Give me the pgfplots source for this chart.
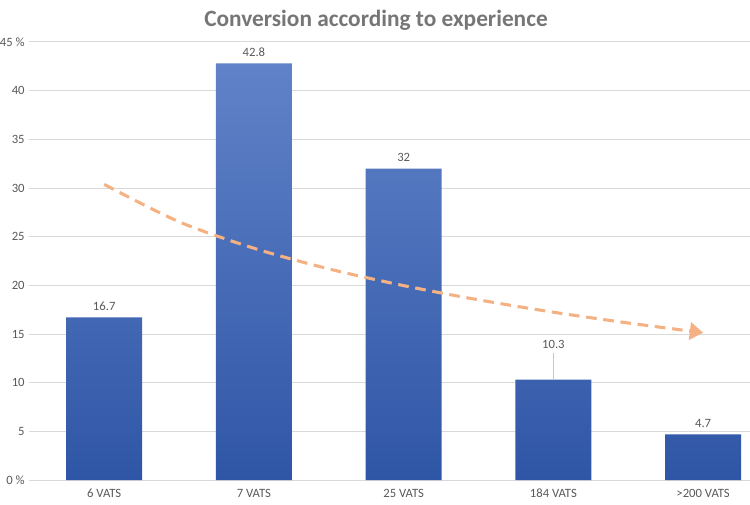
\documentclass[border=0pt]{standalone}
\usepackage{fontspec}
\setmainfont{Carlito}
\usepackage{pgfplots}
\pgfplotsset{compat=1.18}
\usetikzlibrary{arrows.meta}
\definecolor{txtgray}{RGB}{89,89,89}
\definecolor{titlegray}{RGB}{118,118,118}
\definecolor{gridgray}{RGB}{217,217,217}
\definecolor{bartop}{RGB}{96,130,200}
\definecolor{barbot}{RGB}{47,86,166}
\definecolor{trendorange}{RGB}{244,177,131}
\begin{document}
\begin{tikzpicture}
\path[use as bounding box] (0,0) rectangle (562.5pt,378pt);
\node[font=\bfseries\fontsize{17.5}{20}\selectfont, text=titlegray] at (282pt,363pt) {Conversion according to experience};
\begin{axis}[
  at={(22pt,18pt)}, anchor=south west,
  scale only axis,
  width=540.5pt, height=328.5pt,
  xmin=-0.5, xmax=4.313,
  ymin=0, ymax=45,
  xtick={0,1,2,3,4},
  xticklabels={6 VATS, 7 VATS, 25 VATS, 184 VATS, >200 VATS},
  ytick={0,5,...,45},
  yticklabels={0 \%,5,10,15,20,25,30,35,40,45 \%},
  tick label style={font=\fontsize{9.5}{11}\selectfont, text=txtgray},
  /pgf/number format/assume math mode=true,
  major tick length=0pt,
  axis x line*=bottom, axis y line*=left,
  x axis line style={draw=gridgray, line width=0.75pt, -},
  y axis line style={draw=none},
  ymajorgrids=true,
  grid style={draw=gridgray, line width=0.75pt},
  xticklabel style={yshift=-2pt, text height=1.6ex, text depth=0.3ex},
  clip=false,
]
  \addplot[ybar, bar width=57pt, draw=none, top color=bartop, bottom color=barbot,
    nodes near coords,
    nodes near coords style={font=\fontsize{9.5}{11}\selectfont, text=txtgray, /pgf/number format/fixed, inner sep=2pt, yshift=3pt},
    coordinate style/.condition={x==3}{yshift=18pt},
  ] coordinates {(0,16.7) (1,42.8) (2,32) (3,10.3) (4,4.7)};

  \draw[gridgray!80!gray, line width=0.6pt] (axis cs:3,10.3) -- (axis cs:3,13.0);

  \addplot[smooth, color=trendorange, line width=2.3pt, dash pattern=on 8pt off 5pt,
    -{Triangle[length=10pt, width=13pt]}]
    coordinates {(0,30.37) (0.5,26.53) (1,23.81) (1.5,21.69) (2,19.97) (2.5,18.51) (3,17.24) (3.5,16.13) (4,15.13)};
\end{axis}
\end{tikzpicture}
\end{document}
